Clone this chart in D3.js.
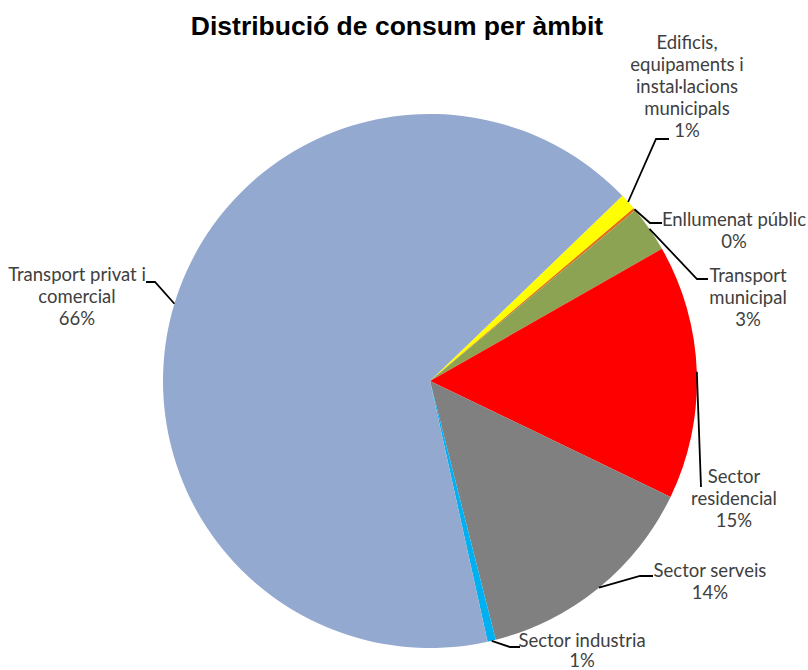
<!DOCTYPE html>
<html><head><meta charset="utf-8">
<script src="https://cdn.jsdelivr.net/npm/d3@7"></script>
<style>body{margin:0;background:#fff;} svg{display:block;}</style>
</head><body>
<svg id="c" width="808" height="670"></svg>
<script>
const categories = ["Edificis, equipaments i instal·lacions municipals","Enllumenat públic","Transport municipal","Sector residencial","Sector serveis","Sector industria","Transport privat i comercial"];
const values = [1.0, 0.15, 2.8, 15.4, 13.9, 0.5, 66.3];
const pctLabels = ["1%","0%","3%","15%","14%","1%","66%"];
const labelLines = [["Edificis,","equipaments i","instal·lacions","municipals"],["Enllumenat públic"],["Transport","municipal"],["Sector","residencial"],["Sector serveis"],["Sector industria"],["Transport privat i","comercial"]];
const colors = ["#FFFF00","#E46C0A","#8BA352","#FF0000","#808080","#00B0F0","#94A9D0"];

// layout
const cx = 430, cy = 381, R = 267;
const startDeg = 46.1;
const labelPos = [ // [centerX, firstLineBaselineY, lineHeight]
  [687, 49, 22], [734, 226, 22], [748, 282, 22], [734, 483, 22], [710, 577, 22], [582, 647, 20], [77, 281, 22]
];
const elbows = [ // elbow point, end point
  [[656,139],[669,139]],
  [[650,223],[662,223]],
  [[697,279],[708,279]],
  [[701,487],[701,487]],
  [[640,576],[653,576]],
  [[510,647],[520,647]],
  [[155,282],[146,282]]
];

const svg = d3.select("#c");
svg.append("text").attr("x",397).attr("y",35).attr("text-anchor","middle")
  .attr("font-family","Liberation Sans, Arial, sans-serif").attr("font-weight","bold")
  .attr("font-size",26.5).attr("fill","#000").text("Distribució de consum per àmbit");

const pie = d3.pie().sort(null).value(d=>d)
  .startAngle(startDeg*Math.PI/180).endAngle(startDeg*Math.PI/180+2*Math.PI);
const arcs = pie(values);
const arc = d3.arc().innerRadius(0).outerRadius(R);
const g = svg.append("g").attr("transform",`translate(${cx},${cy})`);
g.selectAll("path").data(arcs).join("path").attr("d",arc).attr("fill",(d,i)=>colors[i]);

// leader lines
arcs.forEach((a,i)=>{
  const m = (a.startAngle+a.endAngle)/2;
  const sx = cx + R*Math.sin(m), sy = cy - R*Math.cos(m);
  const pts = [[sx,sy], elbows[i][0], elbows[i][1]];
  svg.append("path").attr("d", d3.line()(pts)).attr("fill","none").attr("stroke","#000").attr("stroke-width",1.8);
});

// labels
labelLines.forEach((lines,i)=>{
  const t = svg.append("text").attr("text-anchor","middle")
    .attr("font-family","Lato, Carlito, Calibri, sans-serif").attr("font-size",18.5).attr("fill","#404040");
  const all = lines.concat([pctLabels[i]]);
  all.forEach((s,k)=>{
    t.append("tspan").attr("x",labelPos[i][0]).attr("y",labelPos[i][1]+k*labelPos[i][2]).text(s);
  });
});
</script>
</body></html>
